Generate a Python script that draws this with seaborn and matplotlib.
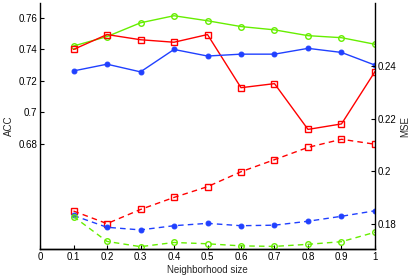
import matplotlib
matplotlib.use("Agg")
import matplotlib.pyplot as plt
import seaborn as sns
import pandas as pd

# Dados
sizes = [0.1, 0.2, 0.3, 0.4, 0.5, 0.6, 0.7, 0.8, 0.9, 1.0]

acc_green = [0.7422, 0.7482, 0.7570, 0.7615, 0.7583, 0.7546, 0.7525, 0.7488, 0.7475, 0.7433]
acc_red = [0.7400, 0.7495, 0.7462, 0.7446, 0.7495, 0.7156, 0.7182, 0.6890, 0.6925, 0.7259]
acc_blue = [0.7263, 0.7306, 0.7257, 0.7400, 0.7358, 0.7370, 0.7370, 0.7407, 0.7381, 0.7300]

mse_red = [0.1848, 0.1800, 0.1854, 0.1900, 0.1941, 0.1998, 0.2044, 0.2091, 0.2122, 0.2103]
mse_blue = [0.1831, 0.1786, 0.1776, 0.1792, 0.1801, 0.1792, 0.1794, 0.1809, 0.1828, 0.1849]
mse_green = [0.1827, 0.1732, 0.1712, 0.1728, 0.1723, 0.1715, 0.1713, 0.1721, 0.1731, 0.1767]

df = pd.DataFrame({
    'size': sizes,
    'acc_green': acc_green, 'acc_red': acc_red, 'acc_blue': acc_blue,
    'mse_red': mse_red, 'mse_blue': mse_blue, 'mse_green': mse_green,
})

sns.set_style('white')
plt.rcParams['font.family'] = ['Liberation Sans', 'DejaVu Sans']
plt.rcParams['font.size'] = 7

verde = '#66ee00'
vermelho = '#ff0000'
azul = '#2040ff'

fig = plt.figure(figsize=(4.15, 2.77), dpi=100)
ax1 = fig.add_axes([0.0964, 0.101, 0.8072, 0.888])
ax2 = ax1.twinx()

kw = dict(linewidth=1.0, markersize=4)
sns.lineplot(data=df, x='size', y='acc_green', ax=ax1, color=verde, marker='o',
             markerfacecolor='none', markeredgecolor=verde, markeredgewidth=1, **kw)
sns.lineplot(data=df, x='size', y='acc_red', ax=ax1, color=vermelho, marker='s',
             markerfacecolor='none', markeredgecolor=vermelho, markeredgewidth=1, **kw)
sns.lineplot(data=df, x='size', y='acc_blue', ax=ax1, color=azul, marker='o',
             markerfacecolor=azul, markeredgecolor=azul, linewidth=1.0, markersize=3.5)

dash = (4, 3)
sns.lineplot(data=df, x='size', y='mse_red', ax=ax2, color=vermelho, marker='s',
             markerfacecolor='none', markeredgecolor=vermelho, markeredgewidth=1,
             dashes=False, linestyle=(0, dash), **kw)
sns.lineplot(data=df, x='size', y='mse_blue', ax=ax2, color=azul, marker='o',
             markerfacecolor=azul, markeredgecolor=azul, linestyle=(0, dash),
             linewidth=1.0, markersize=3.5)
sns.lineplot(data=df, x='size', y='mse_green', ax=ax2, color=verde, marker='o',
             markerfacecolor='none', markeredgecolor=verde, markeredgewidth=1,
             linestyle=(0, dash), **kw)

ax1.set_xlim(0, 1)
ax1.set_ylim(0.6127, 0.7696)
ax2.set_ylim(0.1703, 0.2642)

ax1.set_xticks([0, 0.1, 0.2, 0.3, 0.4, 0.5, 0.6, 0.7, 0.8, 0.9, 1])
ax1.set_xticklabels(['0', '0.1', '0.2', '0.3', '0.4', '0.5', '0.6', '0.7', '0.8', '0.9', '1'])
ax1.set_yticks([0.68, 0.7, 0.72, 0.74, 0.76])
ax1.set_yticklabels(['0.68', '0.7', '0.72', '0.74', '0.76'])
ax2.set_yticks([0.18, 0.2, 0.22, 0.24])
ax2.set_yticklabels(['0.18', '0.2', '0.22', '0.24'])

ax1.set_xlabel('Neighborhood size', labelpad=2)
ax1.set_ylabel('ACC', labelpad=3)
ax2.set_ylabel('MSE', labelpad=3)

for ax in (ax1, ax2):
    ax.spines['top'].set_visible(False)
    for s in ('left', 'right', 'bottom'):
        ax.spines[s].set_color('black')
        ax.spines[s].set_linewidth(1.0)
    ax.tick_params(direction='in', length=3, width=0.8, labelsize=7, pad=2, colors='black')
ax1.spines['right'].set_visible(False)
ax2.spines['left'].set_visible(False)
ax1.tick_params(axis='x', bottom=True)
ax1.tick_params(axis='y', left=True)
ax2.tick_params(axis='y', right=True)

fig.savefig('out.png', dpi=100)
plt.close()
